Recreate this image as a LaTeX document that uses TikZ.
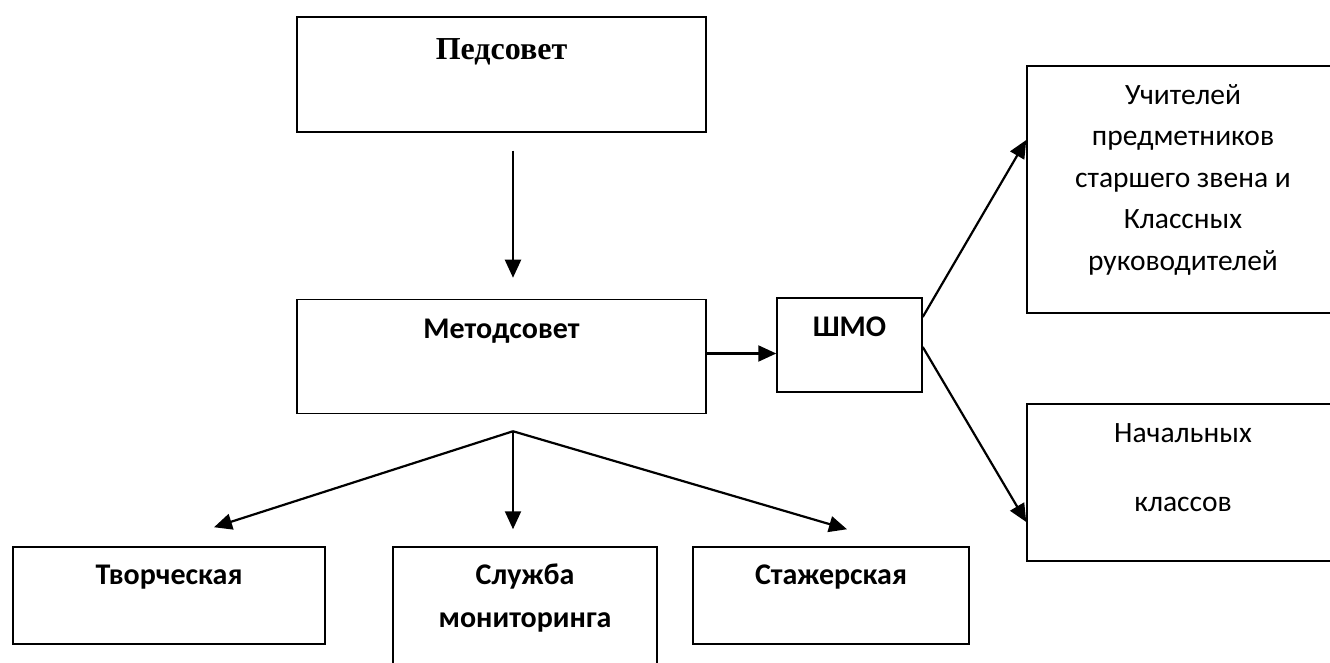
\documentclass[tikz,border=0pt]{standalone}
\usepackage{fontspec}
\setmainfont{Carlito}
\newfontfamily\pedfont{Liberation Serif}
\usepackage{tikz}
\usetikzlibrary{arrows.meta,positioning}
\tikzset{
	org chart/.style={
		x=1pt, y=1pt,
		node distance=166pt,
		execute at begin picture={\useasboundingbox (0,0) rectangle (1330,662);}
		},
	org box/.style 2 args={draw, line width=1.5pt, inner sep=0pt,
		minimum width=#1, minimum height=#2},
	ar/.style={line width=2.2pt, -{Triangle[length=18pt,width=16pt]}},
	bold name/.style={font=\fontsize{30}{43}\selectfont\bfseries,
		align=center, inner sep=0pt, anchor=base},
	plain name/.style={font=\fontsize{29.5}{41.5}\selectfont,
		align=center, inner sep=0pt, anchor=base}
}

\begin{document}
\begin{tikzpicture}[org chart]
	\node[org box={409pt}{115pt}] (ped) at (501.5,587.5) {};
	\node[org box={409pt}{114pt}, below=of ped] (met) {};
	\node[org box={145pt}{94pt}] (shmo) at (849.5,317) {};
	\node[org box={312pt}{247pt}] (uch) at (1183,472.5) {};
	\node[org box={312pt}{157pt}] (nach) at (1183,179.5) {};
	\node[org box={312pt}{97pt}] (tvor) at (169,66.5) {};
	\node[org box={264pt}{135pt}] (sluzh) at (525,47.5) {};
	\node[org box={276pt}{97pt}] (stazh) at (831,66.5) {};

	% base of a name with several lines is its last line
	\node[bold name, font=\pedfont\fontsize{32}{38}\selectfont\bfseries] (ped name) at ([yshift=-43pt]ped.north) {Педсовет};
	\node[bold name] (met name) at ([yshift=-40pt]met.north) {Методсовет};
	\node[bold name] (shmo name) at ([yshift=-39pt]shmo.north) {ШМО};
	\node[plain name] (uch name) at ([yshift=-205pt]uch.north) {Учителей\\предметников\\старшего звена и\\Классных\\руководителей};
	\node[plain name] (nach name) at ([yshift=-108pt]nach.north) {Начальных\\[27.5pt]классов};
	\node[bold name] (tvor name) at ([yshift=-38pt]tvor.north) {Творческая};
	\node[bold name] (sluzh name) at ([yshift=-81pt]sluzh.north) {Служба\\мониторинга};
	\node[bold name] (stazh name) at ([yshift=-38pt]stazh.north) {Стажерская};

	\coordinate (fork) at ([xshift=11.5pt,yshift=-17pt]met.south);
	\coordinate (met out) at ([yshift=3pt]met.east);
	\draw[ar] ([xshift=11.5pt,yshift=-18pt]ped.south) -- ([xshift=11.5pt,yshift=21pt]met.north);
	\draw[ar] (met out) -- (met out -| shmo.west);
	\draw[ar] ([yshift=28pt]shmo.east) -- ([yshift=49.5pt]uch.west);
	\draw[ar] ([yshift=-2pt]shmo.east) -- ([yshift=-39.5pt]nach.west);
	\draw[ar] (fork) -- ([xshift=45pt,yshift=19pt]tvor.north);
	\draw[ar] (fork) -- ([xshift=-12pt,yshift=17pt]sluzh.north);
	\draw[ar] (fork) -- ([xshift=16pt,yshift=17pt]stazh.north);
\end{tikzpicture}
\end{document}
